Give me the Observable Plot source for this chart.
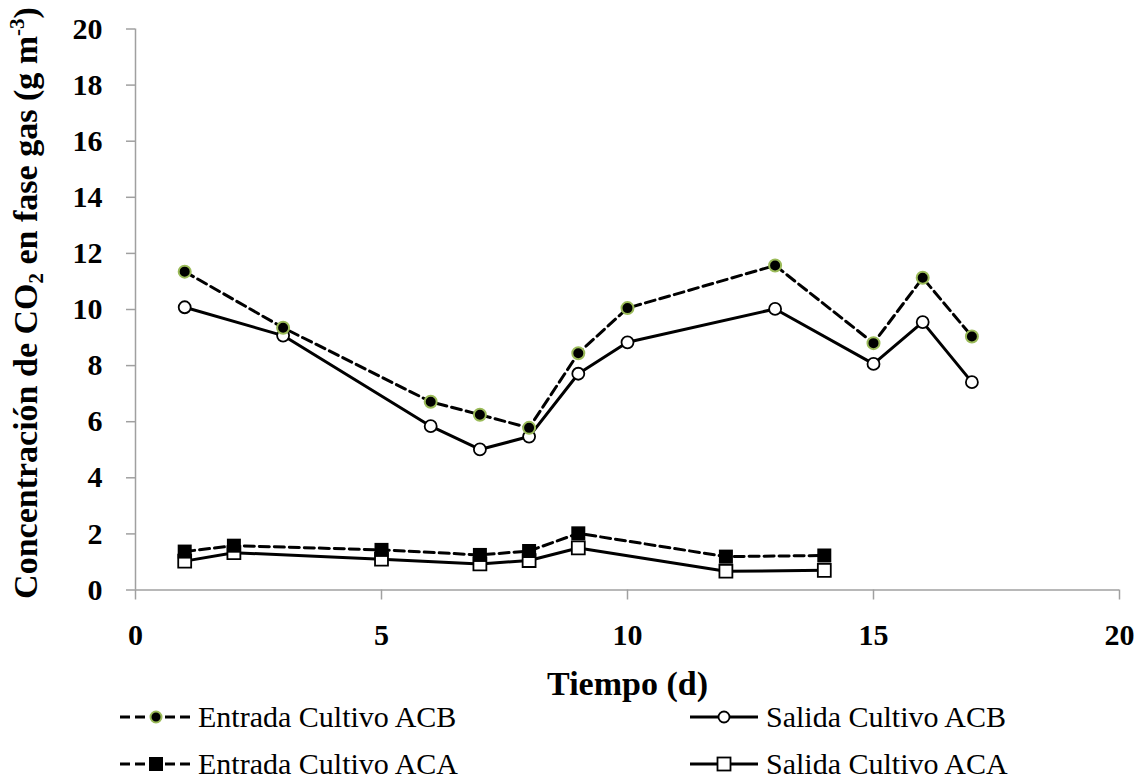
<!DOCTYPE html>
<html><head><meta charset="utf-8">
<script src="https://cdn.jsdelivr.net/npm/d3@7"></script>
<script src="https://cdn.jsdelivr.net/npm/@observablehq/plot@0.6"></script>
<style>
body{margin:0;background:#fff;}
#chart{position:relative;width:1142px;height:779px;font-family:"Liberation Serif",serif;overflow:hidden;background:#fff;}
#chart > svg{position:absolute;left:0;top:0;}
.item{position:absolute;height:26px;display:flex;align-items:center;font-size:30px;line-height:1;color:#000;white-space:nowrap;font-family:"Liberation Serif",serif;}
.item svg{display:block;}
</style></head><body><div id="chart"></div>
<script>
// ---- data ----
const daysACB = [1, 3, 6, 7, 8, 9, 10, 13, 15, 16, 17];
const entradaACB = [11.35, 9.35, 6.71, 6.25, 5.78, 8.44, 10.05, 11.57, 8.80, 11.13, 9.04];
const salidaACB = [10.08, 9.07, 5.84, 5.01, 5.47, 7.71, 8.83, 10.02, 8.06, 9.55, 7.41];
const daysACA = [1, 2, 5, 7, 8, 9, 12, 14];
const entradaACA = [1.37, 1.58, 1.43, 1.25, 1.39, 2.02, 1.19, 1.23];
const salidaACA = [1.03, 1.33, 1.10, 0.93, 1.05, 1.50, 0.67, 0.70];
const seriesNames = ["Entrada Cultivo ACB", "Salida Cultivo ACB", "Entrada Cultivo ACA", "Salida Cultivo ACA"];
const xTicks = [0, 5, 10, 15, 20];
const yTicks = [0, 2, 4, 6, 8, 10, 12, 14, 16, 18, 20];
const xTitle = "Tiempo (d)";

const rows = (xs, ys) => xs.map((d, i) => ({x: d, y: ys[i]}));
const eACB = rows(daysACB, entradaACB), sACB = rows(daysACB, salidaACB);
const eACA = rows(daysACA, entradaACA), sACA = rows(daysACA, salidaACA);

const green = "#9bbb59", axisGray = "#a0a0a0";
const dash = "10,5";

const plot = Plot.plot({
  width: 1142, height: 704,
  marginLeft: 135, marginRight: 23, marginTop: 28.5, marginBottom: 114.5,
  style: {fontFamily: "'Liberation Serif', serif", background: "white", overflow: "visible"},
  x: {domain: [0, 20]},
  y: {domain: [0, 20]},
  marks: [
    Plot.ruleY([0], {stroke: axisGray, strokeWidth: 1.5}),
    Plot.ruleX([0], {stroke: axisGray, strokeWidth: 1.5}),
    Plot.axisX(xTicks, {tickSize: 10, tickPadding: 24, stroke: axisGray, strokeWidth: 1.5, fill: "black", fontSize: 30, fontWeight: "bold", label: null}),
    Plot.axisY(yTicks, {tickSize: 9, tickPadding: 24, stroke: axisGray, strokeWidth: 1.5, fill: "black", fontSize: 30, fontWeight: "bold", label: null}),
    Plot.line(sACB, {x: "x", y: "y", stroke: "black", strokeWidth: 3}),
    Plot.line(sACA, {x: "x", y: "y", stroke: "black", strokeWidth: 3}),
    Plot.line(eACB, {x: "x", y: "y", stroke: "black", strokeWidth: 3, strokeDasharray: dash}),
    Plot.line(eACA, {x: "x", y: "y", stroke: "black", strokeWidth: 3, strokeDasharray: dash}),
    Plot.dot(sACB, {x: "x", y: "y", r: 6, fill: "white", stroke: "black", strokeWidth: 1.8}),
    Plot.dot(sACA, {x: "x", y: "y", r: 7.3, symbol: "square", fill: "white", stroke: "black", strokeWidth: 1.8}),
    Plot.dot(eACB, {x: "x", y: "y", r: 6, fill: "black", stroke: green, strokeWidth: 2}),
    Plot.dot(eACA, {x: "x", y: "y", r: 7.9, symbol: "square", fill: "black", stroke: "none"}),
    Plot.text([xTitle], {text: d => d, frameAnchor: "bottom", dy: 94.5, fontSize: 34, fontWeight: "bold", fill: "black", lineAnchor: "middle"})
  ]
});

// y-axis title with sub/superscripts
const svg = d3.select(plot);
const t = svg.append("text")
  .attr("transform", "translate(37,303) rotate(-90)")
  .attr("text-anchor", "middle")
  .attr("font-size", 34).attr("font-weight", "bold")
  .attr("font-family", "'Liberation Serif', serif").attr("fill", "black");
t.append("tspan").text("Concentración de CO");
t.append("tspan").attr("font-size", 21).attr("dy", 6).text("2");
t.append("tspan").attr("dy", -6).text(" en fase gas (g m");
t.append("tspan").attr("font-size", 21).attr("dy", -13).text("-3");
t.append("tspan").attr("dy", 13).text(")");

const chart = document.getElementById("chart");
chart.appendChild(plot);

// legend (HTML, below the SVG)
function swatch(kind, w, cx) {
  const dashed = kind.startsWith("Entrada");
  let m = "";
  if (kind === "Entrada Cultivo ACB") m = `<circle cx="${cx}" cy="13" r="5.5" fill="black" stroke="${green}" stroke-width="2"/>`;
  if (kind === "Salida Cultivo ACB") m = `<circle cx="${cx}" cy="13" r="5.5" fill="white" stroke="black" stroke-width="1.8"/>`;
  if (kind === "Entrada Cultivo ACA") m = `<rect x="${cx-7}" y="6" width="14" height="14" fill="black"/>`;
  if (kind === "Salida Cultivo ACA") m = `<rect x="${cx-6.5}" y="6.5" width="13" height="13" fill="white" stroke="black" stroke-width="1.8"/>`;
  return `<svg width="${w}" height="26"><line x1="0" x2="${w}" y1="13" y2="13" stroke="black" stroke-width="3" ${dashed ? 'stroke-dasharray="10,5"' : ""}/>${m}</svg>`;
}
const pos = [
  {left: 120, top: 704, w: 72, cx: 36, gap: 6},
  {left: 690, top: 704, w: 68, cx: 34, gap: 8},
  {left: 120, top: 751, w: 72, cx: 36, gap: 6},
  {left: 690, top: 751, w: 68, cx: 34, gap: 8}
];
seriesNames.forEach((name, i) => {
  const p = pos[i];
  const div = document.createElement("div");
  div.className = "item";
  div.style.left = p.left + "px";
  div.style.top = p.top + "px";
  div.innerHTML = swatch(name, p.w, p.cx) + `<span style="margin-left:${p.gap}px">${name}</span>`;
  chart.appendChild(div);
});
</script>
</body></html>
